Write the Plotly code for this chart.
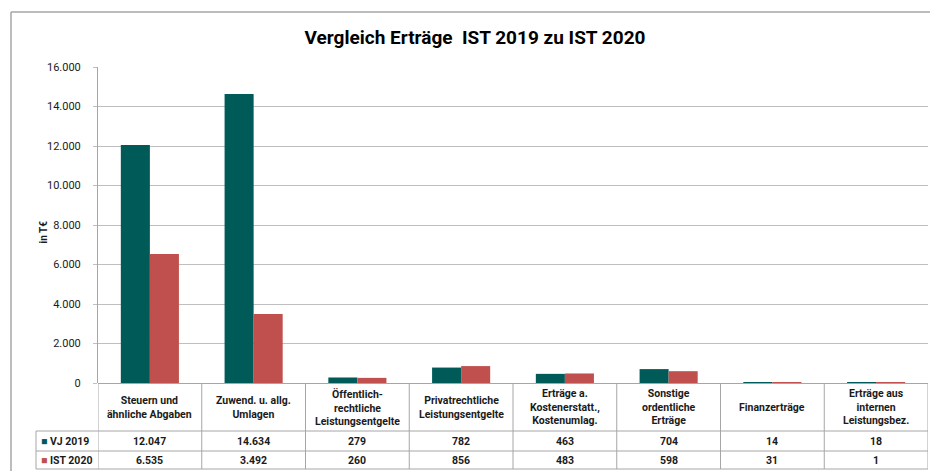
import plotly.graph_objects as go

# Kategorien (Tabellenkopf) und Werte in T€
kategorien = [
    "Steuern und<br>ähnliche Abgaben",
    "Zuwend. u. allg.<br>Umlagen",
    "Öffentlich-<br>rechtliche<br>Leistungsentgelte",
    "Privatrechtliche<br>Leistungsentgelte",
    "Erträge a.<br>Kostenerstatt.,<br>Kostenumlag.",
    "Sonstige<br>ordentliche<br>Erträge",
    "Finanzerträge",
    "Erträge aus<br>internen<br>Leistungsbez.",
]
vj_2019 = [12047, 14634, 279, 782, 463, 704, 14, 18]
ist_2020 = [6535, 3492, 260, 856, 483, 598, 31, 1]
serien = ["VJ 2019", "IST 2020"]
y_ticks = [0, 2000, 4000, 6000, 8000, 10000, 12000, 14000, 16000]

TEAL = "#005b58"
ROT = "#c0504d"
GRID = "#bfbfbf"
RAND = "#a6a6a6"
FONT = "'Liberation Sans Narrow', 'Arial Narrow', Roboto, sans-serif"

x = list(range(len(kategorien)))

fig = go.Figure()
fig.add_trace(go.Bar(x=x, y=vj_2019, name=serien[0], marker=dict(color=TEAL, line=dict(width=0))))
fig.add_trace(go.Bar(x=x, y=ist_2020, name=serien[1], marker=dict(color=ROT, line=dict(width=0))))


def fmt(v):
    return f"{v:,}".replace(",", ".")


# Pixel -> paper (Plotbereich 98..928 x 67..383)
def py(pix):
    return (383 - pix) / 316


def px_(pix):
    return (pix - 98) / 830


shapes = []
line = dict(color=RAND, width=1)
# aussenrahmen (nur oben und links sichtbar)
rahmen = dict(color=RAND, width=1.5)
shapes.append(dict(type="line", xref="paper", yref="paper", x0=px_(11), x1=px_(930),
                   y0=py(12), y1=py(12), line=rahmen))
shapes.append(dict(type="line", xref="paper", yref="paper", x0=px_(11), x1=px_(11),
                   y0=py(12), y1=py(471), line=rahmen))
# Tabellen-Senkrechten
for i in range(len(kategorien) + 1):
    shapes.append(dict(type="line", xref="x", yref="paper", x0=i - 0.5, x1=i - 0.5,
                       y0=py(469), y1=0, line=line))
shapes.append(dict(type="line", xref="paper", yref="paper", x0=px_(36), x1=px_(36),
                   y0=py(469), y1=py(431), line=line))
for yy in [431, 451, 469]:
    shapes.append(dict(type="line", xref="paper", yref="paper", x0=px_(36), x1=1,
                       y0=py(yy), y1=py(yy), line=line))

annotations = []
tfont = dict(family=FONT, size=10.5, color="#1a1a1a")
for i, k in enumerate(kategorien):
    annotations.append(dict(x=i, y=py(407), xref="x", yref="paper", text="<b>" + k + "</b>",
                            showarrow=False, font=tfont, yanchor="middle"))
    annotations.append(dict(x=i, y=py(441), xref="x", yref="paper", text="<b>" + fmt(vj_2019[i]) + "</b>",
                            showarrow=False, font=tfont, yanchor="middle"))
    annotations.append(dict(x=i, y=py(460), xref="x", yref="paper", text="<b>" + fmt(ist_2020[i]) + "</b>",
                            showarrow=False, font=tfont, yanchor="middle"))

for name, col, yy in [(serien[0], TEAL, 441), (serien[1], ROT, 460)]:
    annotations.append(dict(x=px_(39), y=py(yy), xref="paper", yref="paper", xanchor="left",
                            text=f"<span style='color:{col}'>■</span> <b>{name}</b>",
                            showarrow=False, font=tfont, yanchor="middle"))

annotations.append(dict(x=px_(35), y=py(232), xref="paper", yref="paper", text="<b>in T€</b>",
                        textangle=-90, showarrow=False, font=dict(family=FONT, size=10, color="#1a1a1a")))

fig.update_layout(
    width=930, height=471,
    margin=dict(l=98, r=2, t=67, b=88),
    paper_bgcolor="white", plot_bgcolor="white",
    separators=",.",
    showlegend=False,
    barmode="group", bargap=0.44, bargroupgap=0,
    font=dict(family=FONT, size=11, color="#1a1a1a"),
    title=dict(text="<b>Vergleich Erträge  IST 2019 zu IST 2020</b>", x=475 / 930,
               xanchor="center", y=1 - 37 / 471, yanchor="middle",
               font=dict(family=FONT, size=19, color="#000")),
    shapes=shapes,
    annotations=annotations,
)
fig.update_xaxes(range=[-0.5, len(kategorien) - 0.5], showticklabels=False, showgrid=False,
                 zeroline=False, showline=False, fixedrange=True)
fig.update_yaxes(range=[0, 16000], tickvals=y_ticks, tickformat=",d", showgrid=True, gridcolor=GRID,
                 gridwidth=1, zeroline=True, zerolinecolor=RAND, zerolinewidth=1,
                 showline=True, linecolor=RAND, linewidth=1, mirror=False,
                 ticks="outside", ticklen=4, tickcolor=GRID, ticklabelstandoff=10,
                 tickfont=dict(family=FONT, size=11, color="#1a1a1a"))

# Seitenrand entfernen, damit die Grafik genau ins Fenster passt
fig.write_html("out.html", config={"displayModeBar": False},
               post_script="document.body.style.margin='0';document.body.style.overflow='hidden';")
